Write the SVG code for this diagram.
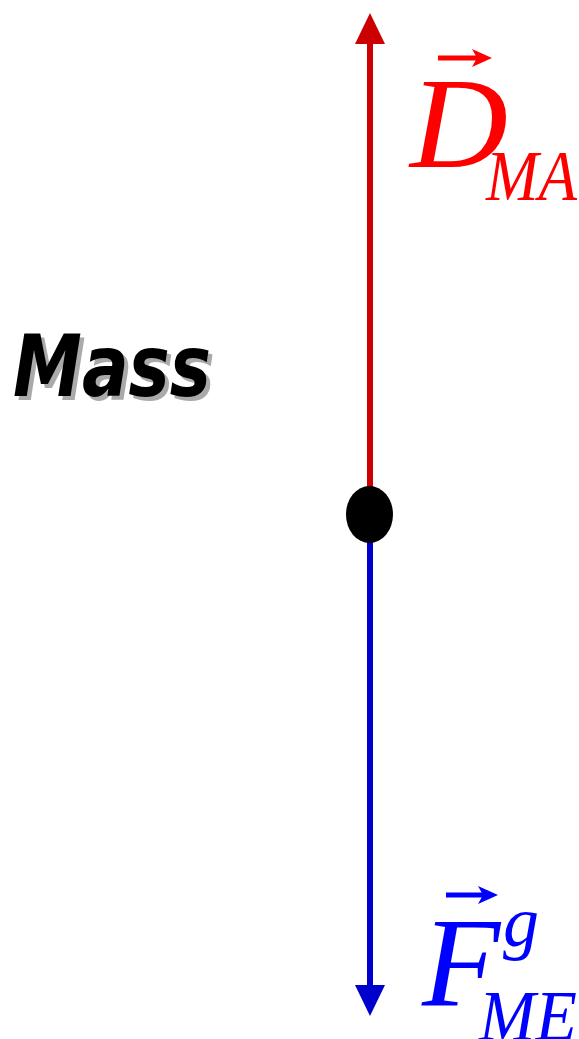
<svg xmlns="http://www.w3.org/2000/svg" width="579" height="1039" viewBox="0 0 579 1039">
<style>
.lbl{font-family:"Liberation Serif","Times New Roman",serif;font-style:italic}
.mass{font-family:"DejaVu Sans","Liberation Sans",sans-serif;font-style:italic;font-weight:bold;font-size:86px}
</style>
<rect width="579" height="1039" fill="#fff"/>
<g id="connectors">
<line x1="370" y1="40" x2="370" y2="488" stroke="#CC0000" stroke-width="6"/>
<polygon points="370,13 355,44 385,44" fill="#CC0000"/>
<line x1="370" y1="540" x2="370" y2="988" stroke="#0000CC" stroke-width="6"/>
<polygon points="370,1016 355,985 385,985" fill="#0000CC"/>
</g>
<g id="mass-point">
<ellipse cx="369.5" cy="514.5" rx="23.5" ry="28.5" fill="#000"/>
</g>
<g id="label-mass">
<text class="mass" x="17" y="400" fill="#aaa" textLength="198" lengthAdjust="spacingAndGlyphs">Mass</text>
<text class="mass" x="13" y="396" fill="#000" textLength="198" lengthAdjust="spacingAndGlyphs">Mass</text>
</g>
<g id="label-D" fill="#FF0000">
<line x1="438" y1="58" x2="484" y2="58" stroke="#FF0000" stroke-width="5"/>
<path d="M492,58 L472,49 L477,58 L472,67 Z"/>
<text class="lbl" x="410" y="167" font-size="130" textLength="98" lengthAdjust="spacingAndGlyphs">D</text>
<text class="lbl" x="486" y="200" font-size="72" textLength="91" lengthAdjust="spacingAndGlyphs">MA</text>
</g>
<g id="label-F" fill="#0000FF">
<line x1="446" y1="895" x2="490" y2="895" stroke="#0000FF" stroke-width="5"/>
<path d="M498,895 L478,886 L483,895 L478,904 Z"/>
<text class="lbl" x="422" y="1005" font-size="128">F</text>
<text class="lbl" x="503" y="946" font-size="72">g</text>
<text class="lbl" x="479" y="1040" font-size="72" textLength="98" lengthAdjust="spacingAndGlyphs">ME</text>
</g>
</svg>
